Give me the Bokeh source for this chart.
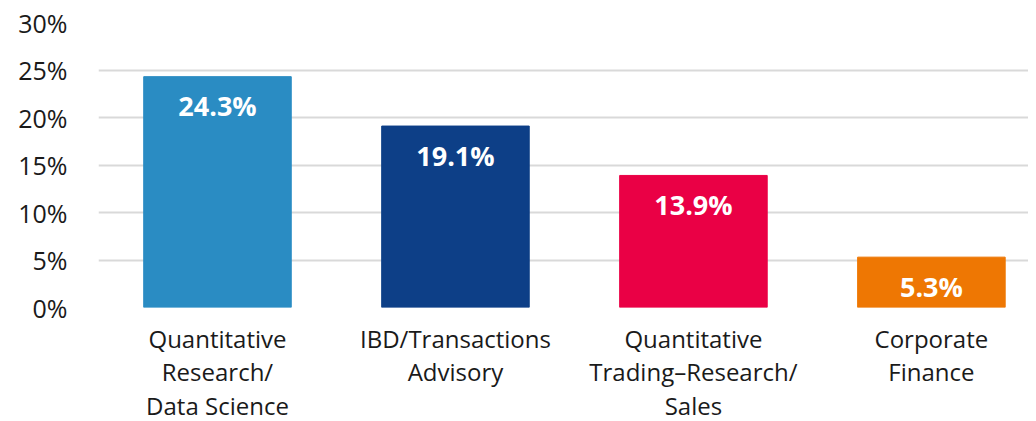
from bokeh.plotting import figure
from bokeh.models import ColumnDataSource, Range1d, FixedTicker, PrintfTickFormatter
from bokeh.core.properties import value
from bokeh.embed import file_html
from bokeh.resources import INLINE

categories = ["Quantitative\nResearch/\nData Science",
              "IBD/Transactions\nAdvisory",
              "Quantitative\nTrading\u2013Research/\nSales",
              "Corporate\nFinance"]
shares = [24.3, 19.1, 13.9, 5.3]
colors = ["#2A8CC3", "#0D3F87", "#EA0045", "#EE7703"]
y_ticks = [0, 5, 10, 15, 20, 25, 30]

FONT = "Open Sans"

xs = [i + 0.5 for i in range(len(categories))]
src = ColumnDataSource(dict(x=xs, top=shares, color=colors,
                            label=[f"{v:.1f}%" for v in shares]))

p = figure(frame_width=930, frame_height=285,
           x_range=Range1d(0, 3.908), y_range=Range1d(0, 30),
           output_backend="svg", toolbar_location=None,
           min_border_left=98, min_border_right=0, min_border_top=22, min_border_bottom=0)

p.vbar(x="x", top="top", bottom=0, width=0.62, color="color", source=src)
p.text(x="x", y="top", text="label", source=src, text_color="white",
       text_font=value(FONT), text_font_style="bold", text_font_size="27px",
       text_align="center", text_baseline="middle", y_offset=29)

p.outline_line_color = None
p.xgrid.grid_line_color = None
p.ygrid.grid_line_color = "#D9D9D9"
p.ygrid.grid_line_width = 2

p.yaxis.ticker = FixedTicker(ticks=y_ticks)
p.yaxis.formatter = PrintfTickFormatter(format="%d%%")
p.yaxis.axis_line_color = None
p.yaxis.major_tick_line_color = None
p.yaxis.minor_tick_line_color = None
p.yaxis.major_label_standoff = 25
p.yaxis.major_label_text_font = FONT
p.yaxis.major_label_text_font_size = "25px"
p.yaxis.major_label_text_color = "#1a1a1a"

p.xaxis.ticker = FixedTicker(ticks=xs)
p.xaxis.major_label_overrides = {x: c for x, c in zip(xs, categories)}
p.xaxis.axis_line_color = None
p.xaxis.major_tick_line_color = None
p.xaxis.minor_tick_line_color = None
p.xaxis.major_label_standoff = 8
p.xaxis.major_label_text_font = FONT
p.xaxis.major_label_text_font_size = "24px"
p.xaxis.major_label_text_color = "#1a1a1a"
p.xaxis.major_label_text_line_height = 1.03

open("out.html", "w").write(file_html(p, INLINE))
